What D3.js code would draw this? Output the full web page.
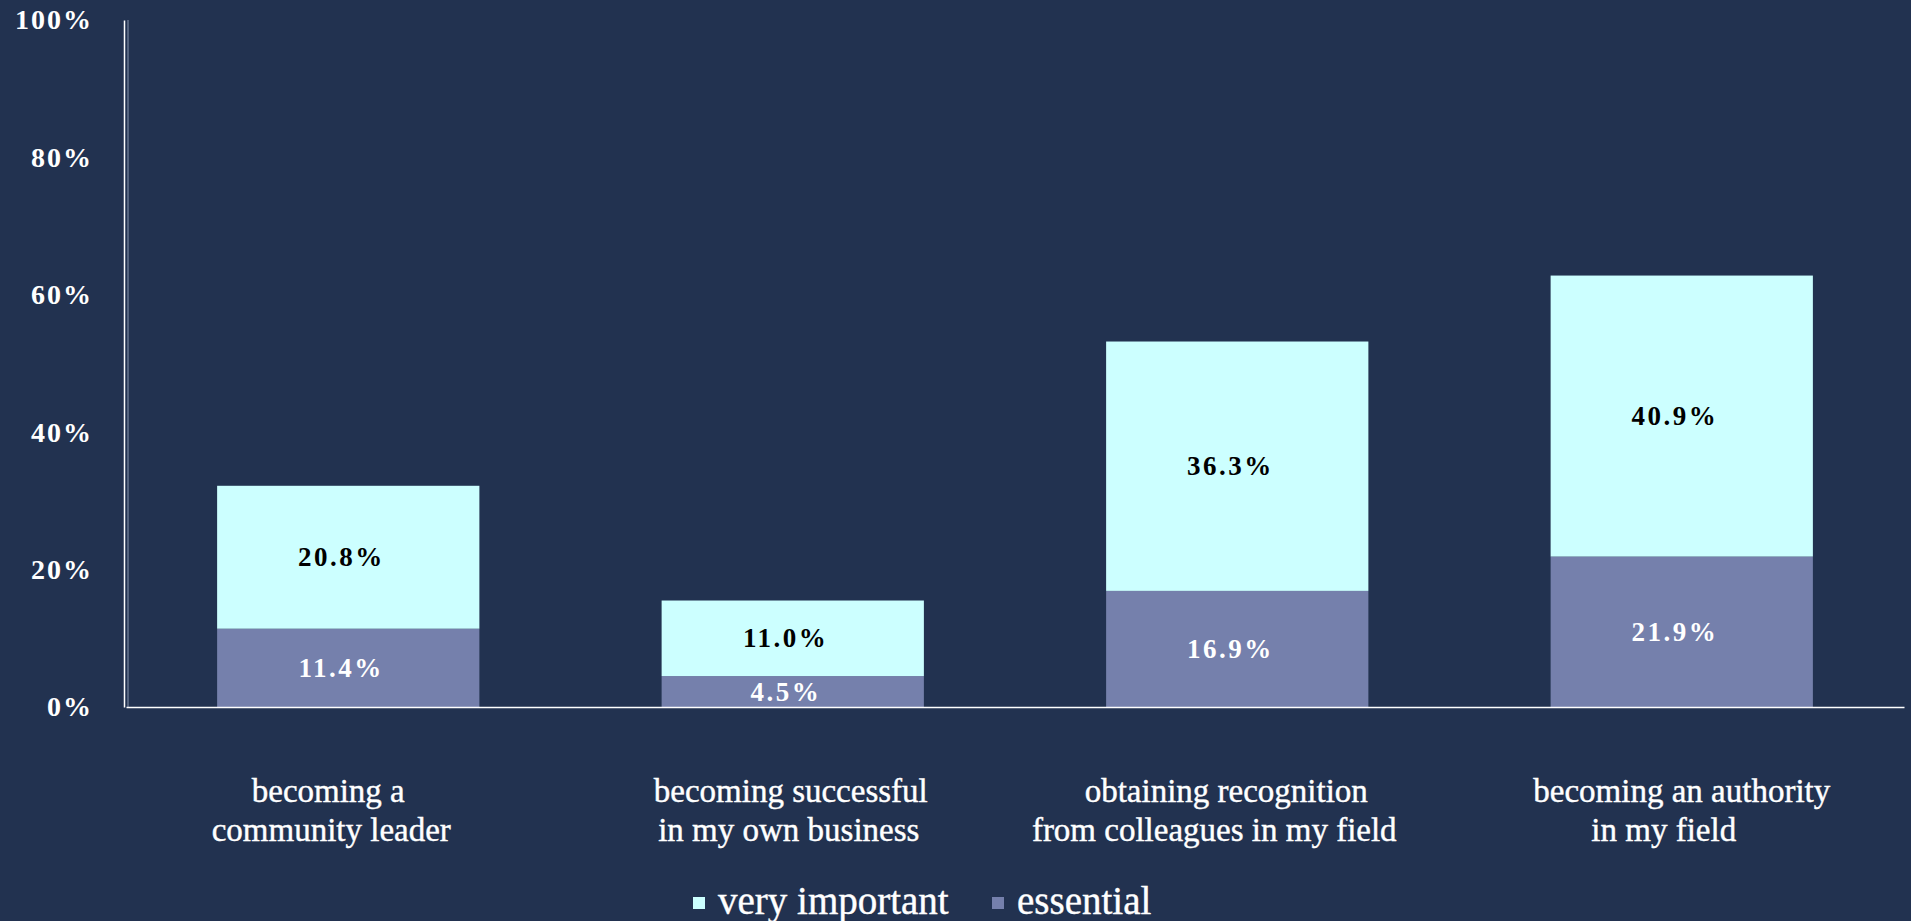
<!DOCTYPE html>
<html>
<head>
<meta charset="utf-8">
<script src="https://cdn.jsdelivr.net/npm/d3@7"></script>
<style>
  body { margin: 0; background: #223250; }
  svg { display: block; }
</style>
</head>
<body>
<svg width="1911" height="921"></svg>
<script>
"use strict";
// category labels, two lines each
const categories = [
    ["becoming a", "community leader"],
    ["becoming successful", "in my own business"],
    ["obtaining recognition", "from colleagues in my field"],
    ["becoming an authority", "in my field"]
];
const essential = [11.4, 4.5, 16.9, 21.9];
const veryImportant = [20.8, 11.0, 36.3, 40.9];
const seriesNames = ["very important", "essential"];
const yTicks = [0, 20, 40, 60, 80, 100];

const svg = d3.select("svg");
const plotLeft = 124, plotRight = 1904, plotTop = 20, plotBottom = 707;
const colors = { "essential": "#7580ac", "very important": "#ccffff" };
const serif = "'Liberation Serif', 'DejaVu Serif', serif";

const keys = categories.map(c => c.join(" "));
const rows = keys.map((k, i) => ({ key: k, "essential": essential[i], "very important": veryImportant[i] }));
const stacked = d3.stack().keys(["essential", "very important"])(rows);

const x = d3.scaleBand()
    .domain(keys)
    .range([plotLeft + 2, plotRight])
    .paddingInner(0.41)
    .paddingOuter(0.205);
const y = d3.scaleLinear().domain([0, 100]).range([plotBottom, plotTop]);

// faint line right of the y axis
svg.append("line")
    .attr("x1", plotLeft + 4).attr("x2", plotLeft + 4)
    .attr("y1", plotTop).attr("y2", plotBottom)
    .attr("stroke", "#8a98b0").attr("stroke-width", 1);

// bars
const layers = svg.selectAll("g.layer")
    .data(stacked)
    .join("g")
    .attr("class", "layer")
    .attr("fill", d => colors[d.key]);

layers.selectAll("rect")
    .data(d => d)
    .join("rect")
    .attr("x", d => x(d.data.key))
    .attr("y", d => y(d[1]))
    .attr("width", x.bandwidth())
    .attr("height", d => y(d[0]) - y(d[1]));

// value labels (sit slightly left of centre in the original)
layers.selectAll("text")
    .data(d => d.map(p => ({ p, key: d.key })))
    .join("text")
    .attr("x", d => x(d.p.data.key) + x.bandwidth() / 2 - 7)
    .attr("y", d => (y(d.p[0]) + y(d.p[1])) / 2)
    .attr("text-anchor", "middle")
    .attr("dominant-baseline", "central")
    .attr("font-family", serif)
    .attr("font-weight", "bold")
    .attr("font-size", 27)
    .attr("letter-spacing", 2.5)
    .attr("fill", d => d.key === "essential" ? "#ffffff" : "#000000")
    .text(d => d3.format(".1f")(d.p.data[d.key]) + "%");

// y axis
const yAxis = svg.append("g")
    .attr("transform", `translate(${plotLeft},0)`)
    .call(d3.axisLeft(y).tickValues(yTicks).tickSize(0).tickPadding(31).tickFormat(d => d + "%"));
yAxis.select(".domain").attr("stroke", "#ffffff").attr("stroke-width", 1.5);
yAxis.selectAll("text")
    .attr("fill", "#ffffff")
    .attr("font-family", serif)
    .attr("font-weight", "bold")
    .attr("font-size", 28)
    .attr("letter-spacing", 2);

// x axis
const xAxis = svg.append("g")
    .attr("transform", `translate(0,${plotBottom})`)
    .call(d3.axisBottom(x).tickSize(0).tickSizeOuter(0));
xAxis.select(".domain").attr("stroke", "#ffffff").attr("stroke-width", 1.5);
xAxis.selectAll(".tick text").remove();
// lines in the original sit a little left of the bar centre
const labelNudge = [[-20, -17], [-2, -4], [-11, -23], [0, -18]];
xAxis.selectAll(".tick").each(function (k, i) {
    const t = d3.select(this).append("text")
        .attr("fill", "#ffffff")
        .attr("stroke", "#ffffff")
        .attr("stroke-width", 0.4)
        .attr("font-family", serif)
        .attr("font-size", 33)
        .attr("text-anchor", "middle");
    categories[i].forEach((line, j) => {
        t.append("tspan")
            .attr("x", labelNudge[i][j])
            .attr("y", 95 + j * 39)
            .text(line);
    });
});

// legend
const legend = svg.append("g").attr("transform", "translate(693,0)");
const legendX = [0, 299];
seriesNames.forEach((name, i) => {
    const g = legend.append("g").attr("transform", `translate(${legendX[i]},0)`);
    g.append("rect")
        .attr("x", 0).attr("y", 897)
        .attr("width", 12).attr("height", 12)
        .attr("fill", colors[name]);
    g.append("text")
        .attr("x", 25).attr("y", 914)
        .attr("fill", "#ffffff")
        .attr("stroke", "#ffffff")
        .attr("stroke-width", 0.4)
        .attr("font-family", serif)
        .attr("font-size", 39)
        .text(name);
});
</script>
</body>
</html>
